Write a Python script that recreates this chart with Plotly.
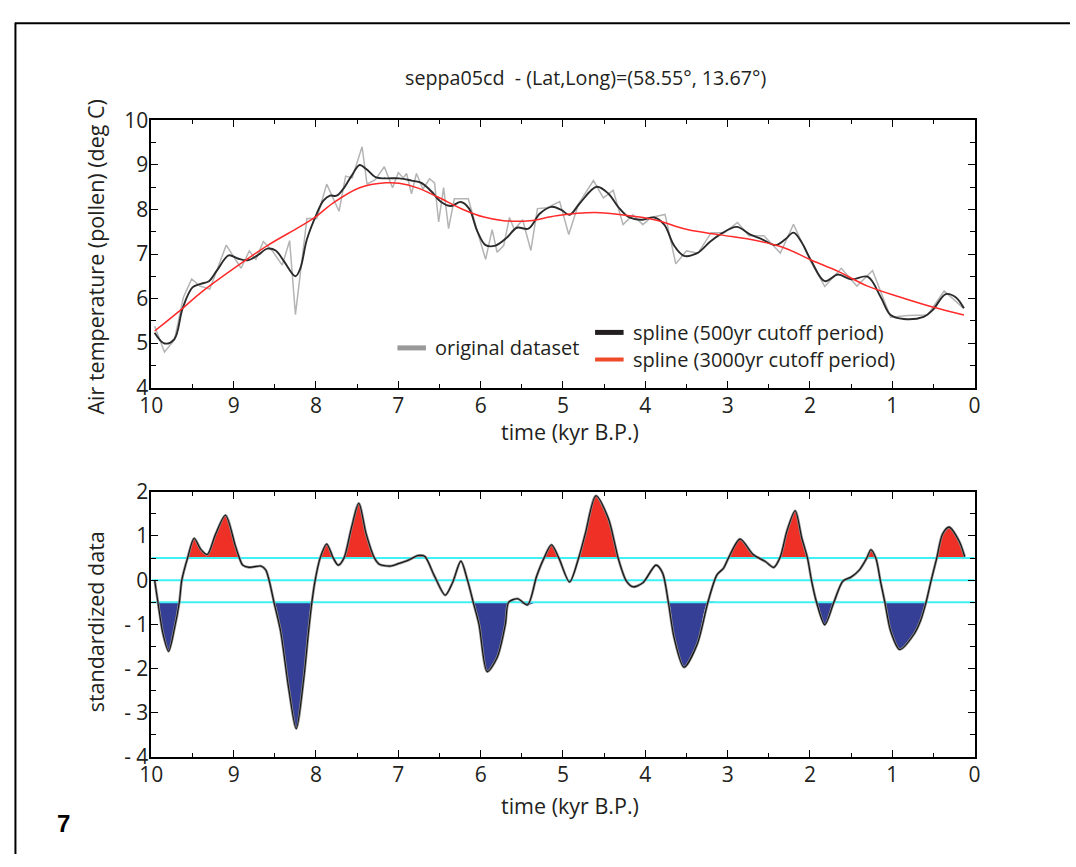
import plotly.graph_objects as go
import numpy as np

# ---------------- data ----------------
orig_t = [9.96, 9.84, 9.72, 9.61, 9.51, 9.41, 9.29, 9.09, 8.91, 8.81, 8.73, 8.64, 8.53, 8.41, 8.32, 8.25,
          8.11, 7.99, 7.87, 7.72, 7.64, 7.56, 7.44, 7.38, 7.28, 7.17, 7.07, 7.00, 6.94, 6.90, 6.84, 6.78,
          6.70, 6.62, 6.56, 6.51, 6.45, 6.39, 6.32, 6.24, 6.15, 6.04, 5.94, 5.86, 5.80, 5.72, 5.65, 5.59,
          5.49, 5.39, 5.31, 5.19, 5.04, 4.93, 4.81, 4.63, 4.51, 4.39, 4.27, 4.15, 4.03, 3.93, 3.76, 3.63,
          3.50, 3.36, 3.20, 3.04, 2.88, 2.74, 2.56, 2.46, 2.36, 2.20, 2.00, 1.82, 1.62, 1.43, 1.24, 1.02,
          0.81, 0.57, 0.37, 0.14]
orig_v = [5.38, 4.80, 5.07, 6.03, 6.44, 6.28, 6.21, 7.20, 6.68, 7.07, 6.88, 7.28, 7.07, 6.75, 7.30, 5.64,
          7.80, 7.80, 8.57, 7.96, 8.75, 8.71, 9.41, 8.57, 8.67, 8.96, 8.49, 8.83, 8.71, 8.81, 8.35, 8.81,
          8.46, 8.69, 8.60, 7.72, 8.49, 7.57, 8.24, 8.24, 8.24, 7.51, 6.88, 7.55, 7.04, 7.19, 7.82, 7.55,
          7.77, 7.08, 8.02, 8.04, 8.18, 7.44, 8.13, 8.65, 8.26, 8.43, 7.66, 7.88, 7.66, 7.82, 7.89, 6.78,
          7.07, 7.02, 7.48, 7.48, 7.71, 7.41, 7.41, 7.22, 7.02, 7.67, 6.86, 6.27, 6.68, 6.28, 6.63, 5.58,
          5.62, 5.63, 6.17, 5.79]

s500_t = [9.96, 9.84, 9.72, 9.62, 9.50, 9.40, 9.30, 9.20, 9.06, 8.95, 8.83, 8.71, 8.59, 8.49, 8.39, 8.25,
          8.19, 8.11, 7.99, 7.91, 7.83, 7.75, 7.67, 7.57, 7.47, 7.39, 7.27, 7.15, 6.99, 6.84, 6.72, 6.60,
          6.48, 6.36, 6.24, 6.14, 6.04, 5.94, 5.82, 5.68, 5.56, 5.42, 5.28, 5.14, 5.02, 4.92, 4.80, 4.59,
          4.45, 4.33, 4.21, 4.05, 3.89, 3.77, 3.65, 3.53, 3.37, 3.21, 3.09, 2.89, 2.73, 2.58, 2.42, 2.30,
          2.20, 2.10, 1.98, 1.82, 1.66, 1.50, 1.30, 1.14, 1.02, 0.86, 0.62, 0.51, 0.35, 0.23, 0.13]
s500_v = [5.23, 4.99, 5.09, 5.78, 6.25, 6.33, 6.39, 6.64, 6.97, 6.90, 6.86, 6.97, 7.12, 7.08, 6.84, 6.50,
          6.68, 7.33, 7.91, 8.20, 8.31, 8.31, 8.46, 8.75, 9.00, 8.91, 8.72, 8.70, 8.70, 8.65, 8.60, 8.41,
          8.17, 8.08, 8.17, 8.02, 7.51, 7.20, 7.19, 7.37, 7.59, 7.57, 7.91, 8.06, 7.99, 7.88, 8.13, 8.51,
          8.36, 8.06, 7.84, 7.77, 7.82, 7.66, 7.19, 6.96, 7.02, 7.28, 7.44, 7.61, 7.44, 7.33, 7.20, 7.33,
          7.48, 7.26, 6.83, 6.39, 6.54, 6.43, 6.49, 6.03, 5.63, 5.54, 5.59, 5.74, 6.10, 6.03, 5.78]

s3000_t = [9.96, 9.62, 9.38, 8.98, 8.59, 8.19, 8.00, 7.79, 7.47, 7.15, 6.99, 6.76, 6.52, 6.20, 5.96, 5.72,
           5.40, 5.08, 4.61, 4.29, 3.89, 3.49, 3.09, 2.70, 2.30, 1.98, 1.66, 1.30, 0.90, 0.51, 0.13]
s3000_v = [5.27, 5.78, 6.16, 6.70, 7.19, 7.62, 7.84, 8.15, 8.49, 8.60, 8.59, 8.48, 8.28, 7.99, 7.83, 7.75,
           7.75, 7.86, 7.93, 7.88, 7.77, 7.55, 7.43, 7.32, 7.13, 6.86, 6.61, 6.28, 6.03, 5.81, 5.63]

std_t = [9.96, 9.92, 9.86, 9.79, 9.72, 9.66, 9.63, 9.56, 9.48, 9.40, 9.32, 9.22, 9.10, 8.98, 8.93, 8.89,
         8.81, 8.67, 8.61, 8.57, 8.51, 8.43, 8.33, 8.24, 8.15, 8.09, 8.05, 8.01, 7.95, 7.87, 7.79, 7.73,
         7.66, 7.57, 7.48, 7.39, 7.29, 7.23, 7.09, 6.99, 6.88, 6.76, 6.68, 6.56, 6.43, 6.34, 6.24, 6.16,
         6.09, 6.02, 5.92, 5.80, 5.70, 5.66, 5.55, 5.43, 5.32, 5.23, 5.14, 5.05, 4.92, 4.81, 4.73, 4.60,
         4.45, 4.37, 4.33, 4.23, 4.15, 4.03, 3.87, 3.79, 3.72, 3.65, 3.53, 3.37, 3.24, 3.13, 3.05, 2.99,
         2.85, 2.69, 2.54, 2.44, 2.36, 2.28, 2.18, 2.10, 2.03, 1.98, 1.92, 1.82, 1.71, 1.60, 1.50, 1.40,
         1.31, 1.26, 1.20, 1.14, 1.09, 1.02, 0.91, 0.74, 0.66, 0.59, 0.53, 0.46, 0.39, 0.31, 0.19, 0.12]
std_v = [0.00, -0.50, -1.20, -1.61, -1.10, -0.50, 0.00, 0.50, 0.95, 0.70, 0.58, 1.04, 1.47, 0.78, 0.50, 0.34,
         0.29, 0.32, 0.23, 0.00, -0.50, -1.15, -2.47, -3.36, -2.25, -1.15, -0.50, 0.00, 0.50, 0.82, 0.50, 0.34,
         0.50, 1.18, 1.74, 1.04, 0.50, 0.36, 0.32, 0.38, 0.45, 0.56, 0.54, 0.09, -0.34, -0.05, 0.43, 0.00,
         -0.50, -1.00, -2.07, -1.75, -1.00, -0.50, -0.42, -0.56, 0.09, 0.50, 0.80, 0.50, -0.04, 0.50, 1.04, 1.91,
         1.40, 0.82, 0.50, -0.02, -0.15, -0.06, 0.34, 0.16, -0.50, -1.30, -1.97, -1.45, -0.50, 0.12, 0.27, 0.50,
         0.93, 0.58, 0.42, 0.29, 0.53, 1.11, 1.57, 0.96, 0.50, -0.02, -0.50, -1.01, -0.50, -0.02, 0.07, 0.23,
         0.50, 0.69, 0.50, -0.06, -0.50, -1.15, -1.57, -1.23, -0.93, -0.50, -0.02, 0.50, 1.04, 1.20, 0.89, 0.53]

thresholds = [0.5, 0.0, -0.5]

x_ticks = [10, 9, 8, 7, 6, 5, 4, 3, 2, 1, 0]
y1_ticks = [4, 5, 6, 7, 8, 9, 10]
y2_ticks = [-4, -3, -2, -1, 0, 1, 2]
y2_ticktext = ["- 4", "- 3", "- 2", "- 1", "0", "1", "2"]

# ---------------- styling ----------------
W, H = 1076, 867
FONT = "Open Sans"
TXT = "#231f20"
RED_FILL = "#ee3026"
BLUE_FILL = "#363f96"
CYAN = "#3ff0f4"


def px_x(p):
    return min(max(p / W, 0), 1)


def px_y(p):
    return min(max(1 - p / H, 0), 1)


fig = go.Figure()

# top panel
fig.add_trace(go.Scatter(x=orig_t, y=orig_v, mode="lines", line=dict(color="#b4b4b4", width=1.5),
                         xaxis="x", yaxis="y", showlegend=False))
fig.add_trace(go.Scatter(x=s500_t, y=s500_v, mode="lines", line=dict(color="#2b2b2b", width=1.9, shape="spline", smoothing=1.0),
                         xaxis="x", yaxis="y", showlegend=False))
fig.add_trace(go.Scatter(x=s3000_t, y=s3000_v, mode="lines", line=dict(color="#ff2a2a", width=1.5, shape="spline", smoothing=1.0),
                         xaxis="x", yaxis="y", showlegend=False))

# bottom panel fills
std_arr = np.array(std_v)
red_top = np.maximum(std_arr, 0.5)
blue_bot = np.minimum(std_arr, -0.5)
fig.add_trace(go.Scatter(x=std_t, y=[0.5] * len(std_t), mode="lines", line=dict(width=0),
                         xaxis="x2", yaxis="y2", showlegend=False, hoverinfo="skip"))
fig.add_trace(go.Scatter(x=std_t, y=red_top, mode="lines", line=dict(width=0, shape="spline", smoothing=0.8),
                         fill="tonexty", fillcolor=RED_FILL, xaxis="x2", yaxis="y2", showlegend=False, hoverinfo="skip"))
fig.add_trace(go.Scatter(x=std_t, y=[-0.5] * len(std_t), mode="lines", line=dict(width=0),
                         xaxis="x2", yaxis="y2", showlegend=False, hoverinfo="skip"))
fig.add_trace(go.Scatter(x=std_t, y=blue_bot, mode="lines", line=dict(width=0, shape="spline", smoothing=0.8),
                         fill="tonexty", fillcolor=BLUE_FILL, xaxis="x2", yaxis="y2", showlegend=False, hoverinfo="skip"))
for th in thresholds:
    fig.add_trace(go.Scatter(x=[10, 0], y=[th, th], mode="lines", line=dict(color=CYAN, width=2),
                             xaxis="x2", yaxis="y2", showlegend=False, hoverinfo="skip"))
fig.add_trace(go.Scatter(x=std_t, y=std_v, mode="lines", line=dict(color="#8a8a8a", width=2.6, shape="spline", smoothing=0.8),
                         xaxis="x2", yaxis="y2", showlegend=False, hoverinfo="skip"))
fig.add_trace(go.Scatter(x=std_t, y=std_v, mode="lines", line=dict(color="#111111", width=1.1, shape="spline", smoothing=0.8),
                         xaxis="x2", yaxis="y2", showlegend=False))

tickfont = dict(family=FONT, size=21, color=TXT)
common_x = dict(range=[10, 0], tickvals=x_ticks, ticks="inside", ticklen=7, tickwidth=1.3, tickcolor="black",
                minor=dict(ticks="inside", ticklen=4, tickwidth=1.2, tickcolor="black", dtick=0.5, showgrid=False),
                showline=True, linecolor="black", linewidth=1.5, mirror="ticks", showgrid=False, zeroline=False,
                tickfont=tickfont, ticklabelstandoff=-2)
common_y = dict(ticks="inside", ticklen=7, tickwidth=1.3, tickcolor="black",
                minor=dict(ticks="inside", ticklen=4.5, tickwidth=1.2, tickcolor="black", dtick=0.5, showgrid=False),
                showline=True, linecolor="black", linewidth=1.5, mirror="ticks", showgrid=False, zeroline=False,
                tickfont=tickfont, ticklabelstandoff=-3)

fig.update_layout(
    width=W, height=H, margin=dict(l=0, r=0, t=0, b=0),
    paper_bgcolor="white", plot_bgcolor="white", showlegend=False,
    xaxis=dict(domain=[px_x(141.7), px_x(979)], anchor="y", **common_x),
    yaxis=dict(domain=[px_y(385), px_y(109)], anchor="x", range=[4, 10], tickvals=y1_ticks, **common_y),
    xaxis2=dict(domain=[px_x(141.7), px_x(979)], anchor="y2", **common_x),
    yaxis2=dict(domain=[px_y(766.7), px_y(492.7)], anchor="x2", range=[-4, 2], tickvals=y2_ticks,
                ticktext=y2_ticktext, **common_y),
)

annots = [
    dict(text="seppa05cd  - (Lat,Long)=(58.55°, 13.67°)", x=583, y=65, size=19.7),
    dict(text="time (kyr B.P.)", x=568, y=430, size=21.5),
    dict(text="time (kyr B.P.)", x=568, y=817, size=21.5),
    dict(text="Air temperature (pollen) (deg C)", x=85, y=250, size=21.5, angle=-90),
    dict(text="standardized data", x=85, y=627, size=21.5, angle=-90),
]
for a in annots:
    fig.add_annotation(text=a["text"], x=px_x(a["x"]), y=px_y(a["y"]), xref="paper", yref="paper", showarrow=False,
                       xanchor="center", yanchor="middle", textangle=a.get("angle", 0),
                       font=dict(family=FONT, size=a["size"], color=TXT))

# legend drawn manually
legend_items = [
    ("original dataset", "#999999", 5, 392, 421, 344, 428),
    ("spline (500yr cutoff period)", "#231f20", 5, 593, 622, 328, 630),
    ("spline (3000yr cutoff period)", "#f04a2a", 4, 593, 622, 356, 630),
]
for label, col, lw, x0, x1, yy, tx in legend_items:
    fig.add_shape(type="line", xref="paper", yref="paper", x0=px_x(x0), x1=px_x(x1), y0=px_y(yy), y1=px_y(yy),
                  line=dict(color=col, width=lw))
    fig.add_annotation(text=label, x=px_x(tx), y=px_y(yy), xref="paper", yref="paper", showarrow=False,
                       xanchor="left", yanchor="middle", font=dict(family=FONT, size=20, color=TXT))

# panel label and frame
fig.add_annotation(text="<b>7</b>", x=px_x(52), y=px_y(835), xref="paper", yref="paper", showarrow=False,
                   xanchor="center", yanchor="middle", font=dict(family="Liberation Sans", size=24, color="black"))
fig.add_shape(type="line", xref="paper", yref="paper", x0=px_x(3), x1=1, y0=px_y(8.5), y1=px_y(8.5),
              line=dict(color="black", width=2))
fig.add_shape(type="line", xref="paper", yref="paper", x0=px_x(3.5), x1=px_x(3.5), y0=0, y1=px_y(8),
              line=dict(color="black", width=2))

fig.write_html("out.html")
